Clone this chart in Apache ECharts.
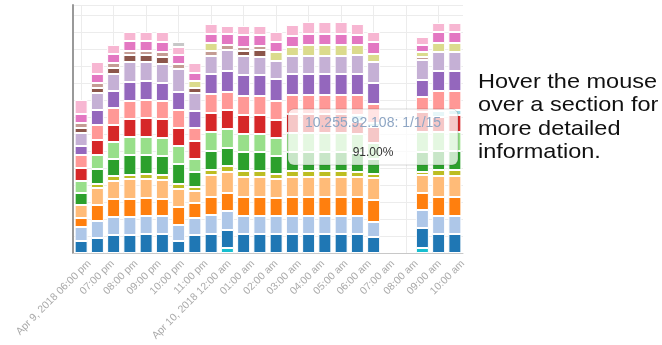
<!DOCTYPE html>
<html>
<head>
<meta charset="utf-8">
<script src="https://cdn.jsdelivr.net/npm/echarts@6/dist/echarts.min.js"></script>
<style>
html, body { margin: 0; padding: 0; background: #fff; }
#chart { width: 662px; height: 345px; }
</style>
</head>
<body>
<div id="chart"></div>
<script>
// sample slots (one bar each), 20 and 21 have no data
var slots = ['1', '2', '3', '4', '5', '6', '7', '8', '9', '10', '11', '12',
    '13', '14', '15', '16', '17', '18', '19', '20', '21', '22', '23', '24'];

// hour ticks on the time axis (hours after Apr 9 06:00 pm)
var hourTicks = [0, 1, 2, 3, 4, 5, 6, 7, 8, 9, 10, 11, 12, 13, 14, 15, 16];
var hourLabels = ['Apr 9, 2018 06:00 pm', '07:00 pm', '08:00 pm', '09:00 pm', '10:00 pm', '11:00 pm',
    'Apr 10, 2018 12:00 am', '01:00 am', '02:00 am', '03:00 am', '04:00 am', '05:00 am',
    '06:00 am', '07:00 am', '08:00 am', '09:00 am', '10:00 am'];

// stacked values, bottom to top
var cyan    = [0, 0, 0, 0, 0, 0, 0, 0, 0, 5, 0, 0, 0, 0, 0, 0, 0, 0, 0, null, null, 5, 0, 0];
var dblue   = [12, 15, 18, 18, 19, 19, 12, 18, 19, 18, 19, 19, 19, 19, 19, 19, 19, 19, 16, null, null, 20, 19, 19];
var lblue   = [14, 17, 18, 18, 18, 18, 16, 17, 19, 19, 18, 18, 18, 18, 18, 18, 18, 18, 15, null, null, 18, 18, 18];
var orange  = [9, 16, 18, 18, 18, 17, 18, 15, 18, 18, 19, 19, 18, 19, 19, 19, 19, 19, 22, null, null, 17, 19, 19];
var lorange = [13, 17, 18, 20, 19, 19, 18, 12, 22, 21, 20, 20, 19, 20, 20, 20, 20, 20, 22, null, null, 18, 21, 21];
var olive   = [0, 4, 5, 4, 5, 5, 5, 4, 5, 6, 6, 6, 5, 6, 6, 6, 6, 5, 4, null, null, 3, 6, 6];
var green   = [12, 15, 17, 20, 19, 19, 20, 15, 19, 18, 19, 19, 18, 19, 19, 19, 19, 19, 15, null, null, 20, 19, 19];
var lgreen  = [12, 14, 17, 18, 18, 18, 18, 13, 19, 19, 18, 18, 18, 19, 19, 19, 19, 19, 16, null, null, 20, 19, 19];
var red     = [13, 15, 17, 18, 19, 19, 18, 18, 19, 19, 19, 19, 18, 19, 19, 19, 19, 12, 16, null, null, 20, 15, 17];
var lcyan   = [0, 0, 0, 0, 0, 0, 0, 0, 0, 0, 0, 0, 0, 0, 0, 0, 0, 7, 4, null, null, 0, 6, 5];
var pink    = [13, 15, 17, 18, 18, 18, 18, 13, 19, 18, 19, 19, 19, 19, 19, 19, 19, 20, 19, null, null, 15, 20, 19];
var purple  = [9, 15, 17, 19, 19, 18, 18, 17, 20, 21, 21, 21, 22, 21, 21, 21, 21, 21, 21, null, null, 17, 20, 20];
var lpurple = [13, 17, 17, 20, 19, 19, 23, 18, 18, 21, 19, 18, 18, 18, 18, 18, 18, 19, 21, null, null, 20, 19, 19];
var brown   = [5, 5, 6, 7, 7, 7, 0, 5, 0, 0, 5, 7, 0, 0, 0, 0, 0, 0, 0, null, null, 0, 0, 0];
var rose    = [5, 5, 5, 4, 4, 5, 5, 0, 5, 5, 4, 4, 0, 0, 0, 0, 0, 0, 0, null, null, 3, 0, 0];
var pyellow = [0, 0, 0, 0, 0, 0, 0, 7, 8, 0, 0, 0, 9, 9, 11, 11, 11, 10, 8, null, null, 5, 9, 9];
var magenta = [9, 9, 9, 10, 10, 10, 9, 8, 9, 11, 12, 11, 10, 11, 11, 11, 11, 10, 12, null, null, 7, 11, 11];
var lpink   = [14, 12, 9, 9, 9, 10, 8, 10, 10, 8, 9, 9, 10, 11, 12, 12, 12, 11, 10, null, null, 8, 9, 9];
var gray    = [0, 0, 0, 0, 0, 0, 5, 0, 0, 0, 0, 0, 0, 0, 0, 0, 0, 0, 0, null, null, 0, 0, 0];

var stackData = [cyan, dblue, lblue, orange, lorange, olive, green, lgreen, red, lcyan,
    pink, purple, lpurple, brown, rose, pyellow, magenta, lpink, gray];
var stackColors = ['#17becf', '#1f77b4', '#aec7e8', '#ff7f0e', '#ffbb78', '#bcbd22', '#2ca02c', '#98df8a',
    '#d62728', '#9edae5', '#ff9896', '#9467bd', '#c5b0d5', '#8c564b', '#c49c94', '#dbdb8d',
    '#e377c2', '#f7b6d2', '#c7c7c7'];

var chart = echarts.init(document.getElementById('chart'));

var series = stackData.map(function (vals, i) {
    return {
        name: 'Series ' + (i + 1),
        type: 'bar',
        stack: 'total',
        xAxisIndex: 0,
        barWidth: 13,
        // empty sections are left out so they don't draw an extra border
        data: vals.map(function (v) { return v === 0 ? null : v; }),
        itemStyle: { color: stackColors[i], borderColor: '#fff', borderWidth: 1 }
    };
});

var option = {
    animation: false,
    grid: { left: 73, right: 199, top: 5, bottom: 92 },
    xAxis: [
        {
            type: 'category',
            position: 'top',
            data: slots,
            axisLine: { show: false },
            axisTick: { show: false },
            axisLabel: { show: false },
            splitLine: { show: true, alignWithLabel: true, lineStyle: { color: '#ececec' } }
        },
        {
            type: 'value',
            position: 'bottom',
            min: -0.7,
            max: 16,
            axisLine: { show: true, onZero: false, lineStyle: { color: '#c8c8c8', width: 1 } },
            axisTick: { show: false },
            splitLine: { show: false },
            axisLabel: {
                customValues: hourTicks,
                rotate: 45,
                margin: 9,
                fontSize: 10.5,
                color: '#aaa',
                fontFamily: 'Liberation Sans, Arial, sans-serif',
                formatter: function (value) {
                    return hourLabels[Math.round(value)];
                }
            }
        }
    ],
    yAxis: {
        type: 'value',
        min: 0,
        max: 248,
        interval: 17,
        axisLine: { show: true, onZero: false, lineStyle: { color: '#999', width: 2 } },
        axisTick: { show: false },
        axisLabel: { show: false },
        splitLine: { lineStyle: { color: '#ececec' } }
    },
    series: series,
    graphic: [
        {
            type: 'rect',
            shape: { x: 288, y: 109, width: 170, height: 56, r: 6 },
            style: {
                fill: 'rgba(255,255,255,0.74)',
                stroke: 'rgba(0,0,0,0.15)',
                lineWidth: 1
            },
            z: 100
        },
        {
            type: 'text',
            x: 373,
            y: 123,
            style: {
                text: '10.255.92.108: 1/1/15',
                fill: '#8ea6c4',
                font: '14px "Liberation Sans", Arial, sans-serif',
                align: 'center',
                verticalAlign: 'middle'
            },
            z: 101
        },
        {
            type: 'text',
            x: 373,
            y: 153,
            style: {
                text: '91.00%',
                fill: '#333',
                font: '12px "Liberation Sans", Arial, sans-serif',
                align: 'center',
                verticalAlign: 'middle'
            },
            z: 101
        },
        {
            type: 'text',
            x: 478,
            y: 70,
            scaleX: 1.12,
            style: {
                text: 'Hover the mouse\nover a section for\nmore detailed\ninformation.',
                fill: '#111',
                font: '21px "Liberation Sans", Arial, sans-serif',
                lineHeight: 23.5,
                align: 'left',
                verticalAlign: 'top'
            }
        }
    ]
};

chart.setOption(option);
</script>
</body>
</html>
